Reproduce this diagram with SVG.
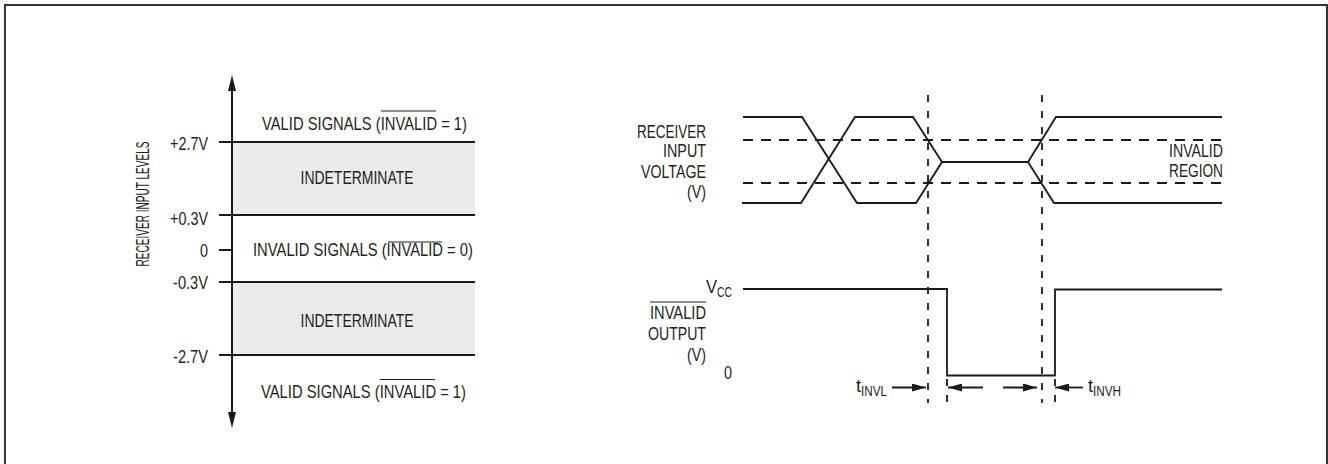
<svg xmlns="http://www.w3.org/2000/svg" width="1328" height="464" viewBox="0 0 1328 464">
<style>
text{font-family:"Liberation Sans",Arial,sans-serif;font-size:18.5px;fill:#231f20}
.sub{font-size:14px}
.ln{stroke:#1a1a1a;stroke-width:2;fill:none}
.sig{stroke:#1a1a1a;stroke-width:1.8;fill:none}
.dh{stroke:#1a1a1a;stroke-width:1.8;fill:none;stroke-dasharray:10 8}
.dv{stroke:#1a1a1a;stroke-width:1.8;fill:none;stroke-dasharray:7 9}
.ol{stroke:#231f20;stroke-width:1.2}
.shade{fill:#ebebeb}
</style>
<defs>
<marker id="ah" viewBox="0 0 14 8" refX="14" refY="4" markerWidth="14" markerHeight="8" markerUnits="userSpaceOnUse" orient="auto">
<path d="M0,0 L14,4 L0,8 z" fill="#1a1a1a"/>
</marker>
</defs>
<rect width="1328" height="464" fill="#fff"/>
<path id="frame" d="M5,470 V5 H1327 V470" fill="none" stroke="#333" stroke-width="2"/>

<g id="levels">
<rect class="shade" x="232" y="142" width="243" height="73"/>
<rect class="shade" x="232" y="282" width="243" height="73"/>
<line class="ln" x1="219" y1="142" x2="475" y2="142"/>
<line class="ln" x1="219" y1="215" x2="475" y2="215"/>
<line class="ln" x1="219" y1="250" x2="232" y2="250"/>
<line class="ln" x1="219" y1="282" x2="475" y2="282"/>
<line class="ln" x1="219" y1="355" x2="475" y2="355"/>
<path class="ln" d="M232,90 V413"/>
<path d="M232,75 L236,91 L228,91 z" fill="#1a1a1a"/>
<path d="M232,428 L236,412 L228,412 z" fill="#1a1a1a"/>
<text transform="translate(148.5,204) rotate(-90)" text-anchor="middle" textLength="125" lengthAdjust="spacingAndGlyphs">RECEIVER INPUT LEVELS</text>
<text x="208" y="149.5" text-anchor="end" textLength="38" lengthAdjust="spacingAndGlyphs">+2.7V</text>
<text x="208" y="225" text-anchor="end" textLength="38" lengthAdjust="spacingAndGlyphs">+0.3V</text>
<text x="208" y="256.5" text-anchor="end" textLength="8" lengthAdjust="spacingAndGlyphs">0</text>
<text x="208" y="289" text-anchor="end" textLength="35" lengthAdjust="spacingAndGlyphs">-0.3V</text>
<text x="208" y="362.5" text-anchor="end" textLength="35" lengthAdjust="spacingAndGlyphs">-2.7V</text>
<text x="262" y="130" textLength="205" lengthAdjust="spacingAndGlyphs">VALID SIGNALS (INVALID = 1)</text>
<line class="ol" x1="381" y1="111" x2="436" y2="111"/>
<text x="357" y="184" text-anchor="middle" textLength="113" lengthAdjust="spacingAndGlyphs">INDETERMINATE</text>
<text x="253" y="256" textLength="220" lengthAdjust="spacingAndGlyphs">INVALID SIGNALS (INVALID = 0)</text>
<line class="ol" x1="388" y1="242" x2="442" y2="242"/>
<text x="357" y="327" text-anchor="middle" textLength="113" lengthAdjust="spacingAndGlyphs">INDETERMINATE</text>
<text x="261" y="398" textLength="205" lengthAdjust="spacingAndGlyphs">VALID SIGNALS (INVALID = 1)</text>
<line class="ol" x1="380" y1="379.5" x2="435" y2="379.5"/>
</g>

<g id="input-labels">
<text x="706" y="138" text-anchor="end" textLength="69" lengthAdjust="spacingAndGlyphs">RECEIVER</text>
<text x="706" y="157" text-anchor="end" textLength="43" lengthAdjust="spacingAndGlyphs">INPUT</text>
<text x="706" y="178" text-anchor="end" textLength="65" lengthAdjust="spacingAndGlyphs">VOLTAGE</text>
<text x="706" y="198" text-anchor="end" textLength="19" lengthAdjust="spacingAndGlyphs">(V)</text>
<text x="1223" y="157" text-anchor="end" textLength="54" lengthAdjust="spacingAndGlyphs">INVALID</text>
<text x="1223" y="177" text-anchor="end" textLength="54" lengthAdjust="spacingAndGlyphs">REGION</text>
</g>

<g id="output-labels">
<text x="706" y="293" textLength="11" lengthAdjust="spacingAndGlyphs">V</text>
<text x="717" y="297" class="sub" textLength="15" lengthAdjust="spacingAndGlyphs">CC</text>
<text x="706" y="319" text-anchor="end" textLength="56" lengthAdjust="spacingAndGlyphs">INVALID</text>
<line class="ol" x1="650" y1="302" x2="706" y2="302"/>
<text x="706" y="340" text-anchor="end" textLength="58" lengthAdjust="spacingAndGlyphs">OUTPUT</text>
<text x="706" y="361" text-anchor="end" textLength="19" lengthAdjust="spacingAndGlyphs">(V)</text>
<text x="732" y="379" text-anchor="end" textLength="8" lengthAdjust="spacingAndGlyphs">0</text>
<text x="856" y="392">t</text>
<text x="861" y="396" class="sub" textLength="26" lengthAdjust="spacingAndGlyphs">INVL</text>
<text x="1088" y="392">t</text>
<text x="1093" y="396" class="sub" textLength="28" lengthAdjust="spacingAndGlyphs">INVH</text>
</g>

<g id="connectors">
<line class="dh" x1="743" y1="140" x2="1222" y2="140"/>
<line class="dh" x1="743" y1="183" x2="1222" y2="183"/>
<line class="dv" x1="928" y1="95" x2="928" y2="403"/>
<line class="dv" x1="1042" y1="95" x2="1042" y2="403"/>
<line class="dv" x1="947" y1="379" x2="947" y2="403"/>
<line class="dv" x1="1055" y1="379" x2="1055" y2="403"/>
<path class="sig" d="M743,117 H802 L857,203 H916 L942,162 H1028 L1056,117 H1222"/>
<path class="sig" d="M742,203 H801 L855,117 H913 L942,162 M1028,162 L1054,203 H1222"/>
<path class="sig" d="M743,289 H947 V375.5 H1055 V289.5 H1222"/>
<line class="sig" x1="892" y1="387.5" x2="926" y2="387.5" marker-end="url(#ah)"/>
<line class="sig" x1="983" y1="387.5" x2="948" y2="387.5" marker-end="url(#ah)"/>
<line class="sig" x1="1003" y1="387.5" x2="1037" y2="387.5" marker-end="url(#ah)"/>
<line class="sig" x1="1083" y1="387.5" x2="1055" y2="387.5" marker-end="url(#ah)"/>
</g>
</svg>
